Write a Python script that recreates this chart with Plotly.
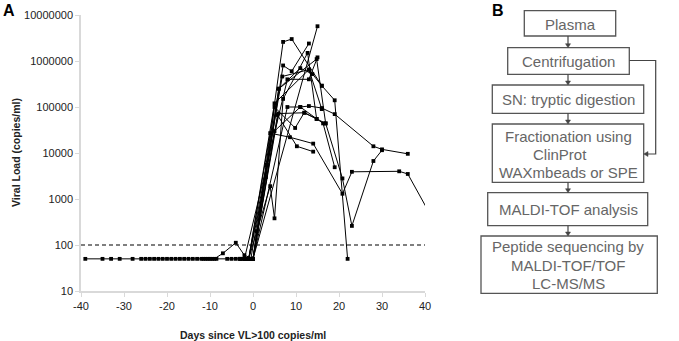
import plotly.graph_objects as go

# ---------------- data (panel A) ----------------
s1_days = [-39, -35, -33, -31, -28, -26, -25, -24, -23, -22, -21, -20, -19, -18, -17, -16, -15, -14, -13, -12, -11, -10, -9, -7, -4, -2, 0, 7, 9, 16, 19, 22]
s1_vl = [50, 50, 50, 50, 50, 50, 50, 50, 50, 50, 50, 50, 50, 50, 50, 50, 50, 50, 50, 50, 50, 50, 50, 66, 112, 60, 50, 2600000, 3000000, 290000, 140000, 50]
s2_days = [-11.5, -10.5, -9.5, -8.5, -6, -5, -4, -3, -2, -1, 0, 15]
s2_vl = [50, 50, 50, 50, 50, 50, 50, 50, 50, 50, 50, 5700000]
s3_days = [-3, -2, -1, 3.2, 6, 14.8, 16.9]
s3_vl = [50, 50, 50, 5500, 250000, 1100000, 44000]
s4_days = [-1, 0.9, 4, 5, 7, 12.7, 14.8]
s4_vl = [50, 200, 1900, 380, 150000, 1500000, 55000]
s5_days = [-2, -0.5, 6.8, 13, 16]
s5_vl = [50, 50, 460000, 650000, 90000]
s6_days = [-2, -1, 0, 5, 11, 13, 16, 19, 28, 30, 36]
s6_vl = [50, 50, 50, 30000, 100000, 105000, 95000, 70000, 14000, 12000, 9600]
s7_days = [-1.5, -1, 4, 8.6, 14, 20.8, 23, 34, 36, 41]
s7_vl = [50, 50, 27000, 22000, 16000, 1300, 3900, 4000, 3500, 500]
s8_days = [-1, 0, 5.9, 12, 16.9, 20.8, 23, 28, 30]
s8_vl = [50, 50, 72000, 75000, 44000, 2800, 260, 6700, 11500]
s9_days = [-0.5, 0, 5.7, 10.2, 14]
s9_vl = [50, 50, 67000, 14000, 10700]
s10_days = [-1, 0, 8, 11, 16.3, 19]
s10_vl = [50, 50, 100000, 100000, 44000, 4900]
s11_days = [-3, -1, 3, 6, 11, 13.8]
s11_vl = [50, 50, 3000, 250000, 700000, 520000]
s12_days = [-2, 8, 13, 15]
s12_vl = [50, 400000, 400000, 1200000]
s13_days = [-1, 0, 3.2, 5, 9.8, 11.9, 14.8]
s13_vl = [50, 50, 5500, 100000, 35000, 75000, 55000]
s14_days = [-2, -1, 5, 13, 16]
s14_vl = [50, 50, 120000, 650000, 290000]
s15_days = [-0.5, 0, 7, 9, 13]
s15_vl = [50, 50, 800000, 600000, 2400000]

threshold_days = [-40, 40]
threshold_vl = [100, 100]

x_tickvals = [-40, -30, -20, -10, 0, 10, 20, 30, 40]
x_ticktext = ["-40", "-30", "-20", "-10", "0", "10", "20", "30", "40"]
y_tickvals = [10, 100, 1000, 10000, 100000, 1000000, 10000000]
y_ticktext = ["10", "100", "1000", "10000", "100000", "1000000", "10000000"]

# ---------------- data (panel B) ----------------
flow_steps = ["Plasma", "Centrifugation", "SN: tryptic digestion",
              ["Fractionation using", "ClinProt", "WAXmbeads or SPE"],
              "MALDI-TOF analysis",
              ["Peptide sequencing by", "MALDI-TOF/TOF", "LC-MS/MS"]]

series = [(s1_days, s1_vl), (s2_days, s2_vl), (s3_days, s3_vl), (s4_days, s4_vl),
          (s5_days, s5_vl), (s6_days, s6_vl), (s7_days, s7_vl), (s8_days, s8_vl),
          (s9_days, s9_vl), (s10_days, s10_vl), (s11_days, s11_vl), (s12_days, s12_vl),
          (s13_days, s13_vl), (s14_days, s14_vl), (s15_days, s15_vl)]

W, H = 679, 341
L, R, T, B = 81, 425, 15, 291
FONT = "Liberation Sans, Arial, sans-serif"

fig = go.Figure()
fig.add_trace(go.Scatter(x=threshold_days, y=threshold_vl, mode="lines",
                         line=dict(color="black", width=1.2, dash="4px,3px"),
                         showlegend=False, hoverinfo="skip"))
for d, v in series:
    fig.add_trace(go.Scatter(x=d, y=v, mode="lines+markers",
                             line=dict(color="black", width=1),
                             marker=dict(symbol="square", size=3.8, color="black"),
                             showlegend=False))


def px(x):
    return (x - L) / (R - L)


def py(y):
    return (B - y) / (B - T)


shapes = []
annotations = []
BOX_COL = "#555555"
TXT_COL = "#666666"

boxes = [
    (524.3, 615.7, 10.7, 36.0),
    (507.7, 629.3, 47.7, 74.3),
    (492.3, 643.7, 85.0, 113.3),
    (492.3, 643.7, 124.0, 182.3),
    (487.7, 647.7, 192.7, 225.7),
    (481.0, 657.3, 236.0, 293.3),
]
for (x0, x1, y0, y1) in boxes:
    shapes.append(dict(type="rect", xref="paper", yref="paper",
                       x0=px(x0), x1=px(x1), y0=py(y1), y1=py(y0),
                       line=dict(color=BOX_COL, width=1.3), fillcolor="white", layer="above"))

text_pos = [
    [(570, 24.5)],
    [(568, 61.5)],
    [(568, 99)],
    [(568.5, 136), (560, 154), (568.5, 172.5)],
    [(568, 209.5)],
    [(568, 246.5), (568, 265), (568, 283.5)],
]
for step, pos in zip(flow_steps, text_pos):
    lines = step if isinstance(step, list) else [step]
    for t, (x, y) in zip(lines, pos):
        annotations.append(dict(xref="paper", yref="paper", x=px(x), y=py(y), text=t,
                                showarrow=False, xanchor="center", yanchor="middle",
                                font=dict(family=FONT, size=15, color=TXT_COL)))

ARW = "#444444"


def down_arrow(x, y0, y1):
    shapes.append(dict(type="line", xref="paper", yref="paper", x0=px(x), x1=px(x),
                       y0=py(y0), y1=py(y1 - 3), line=dict(color=ARW, width=1.2)))
    shapes.append(dict(type="path", xref="paper", yref="paper",
                       path=f"M {px(x-2.5)} {py(y1-4)} L {px(x+2.5)} {py(y1-4)} L {px(x)} {py(y1)} Z",
                       fillcolor=ARW, line=dict(color=ARW, width=0.5)))


gaps = [(36.0, 47.7), (74.3, 85.0), (113.3, 124.0), (182.3, 192.7), (225.7, 236.0)]
for (a, b) in gaps:
    down_arrow(568, a, b)

# side connector
shapes.append(dict(type="path", xref="paper", yref="paper",
                   path=f"M {px(629.3)} {py(60.5)} L {px(655.7)} {py(60.5)} L {px(655.7)} {py(154)} L {px(647.5)} {py(154)}",
                   line=dict(color=ARW, width=1.2)))
shapes.append(dict(type="path", xref="paper", yref="paper",
                   path=f"M {px(648)} {py(151.5)} L {px(648)} {py(156.5)} L {px(643.7)} {py(154)} Z",
                   fillcolor=ARW, line=dict(color=ARW, width=0.5)))

annotations.append(dict(xref="paper", yref="paper", x=px(9), y=py(11), text="<b>A</b>",
                        showarrow=False, xanchor="center", yanchor="middle",
                        font=dict(family=FONT, size=16, color="black")))
annotations.append(dict(xref="paper", yref="paper", x=px(498), y=py(11), text="<b>B</b>",
                        showarrow=False, xanchor="center", yanchor="middle",
                        font=dict(family=FONT, size=16, color="black")))
annotations.append(dict(xref="paper", yref="paper", x=px(253), y=py(335),
                        text="<b>Days since VL>100 copies/ml</b>",
                        showarrow=False, xanchor="center", yanchor="middle",
                        font=dict(family=FONT, size=10.5, color="#222222")))
annotations.append(dict(xref="paper", yref="paper", x=px(16), y=py(153),
                        text="<b>Viral Load (copies/ml)</b>", textangle=-90,
                        showarrow=False, xanchor="center", yanchor="middle",
                        font=dict(family=FONT, size=10.5, color="#222222")))

fig.update_layout(
    width=W, height=H, autosize=False,
    margin=dict(l=L, r=W - R, t=T, b=H - B, pad=0),
    paper_bgcolor="white", plot_bgcolor="white",
    font=dict(family=FONT, size=11, color="#222222"),
    shapes=shapes, annotations=annotations,
    xaxis=dict(range=[-40, 40], tickvals=x_tickvals, ticktext=x_ticktext, automargin=False,
               showgrid=False, zeroline=False, showline=True, linecolor="#d9d9d9", linewidth=1.5,
               ticks="outside", ticklen=4, tickcolor="#d9d9d9",
               tickfont=dict(family=FONT, size=11, color="#222222")),
    yaxis=dict(type="log", range=[1, 7], tickvals=y_tickvals, ticktext=y_ticktext, automargin=False,
               showgrid=False, zeroline=False, showline=True, linecolor="#d9d9d9", linewidth=1.5,
               ticks="outside", ticklen=4, tickcolor="#d9d9d9",
               tickfont=dict(family=FONT, size=11, color="#222222")),
)

fig.write_html("out.html")
